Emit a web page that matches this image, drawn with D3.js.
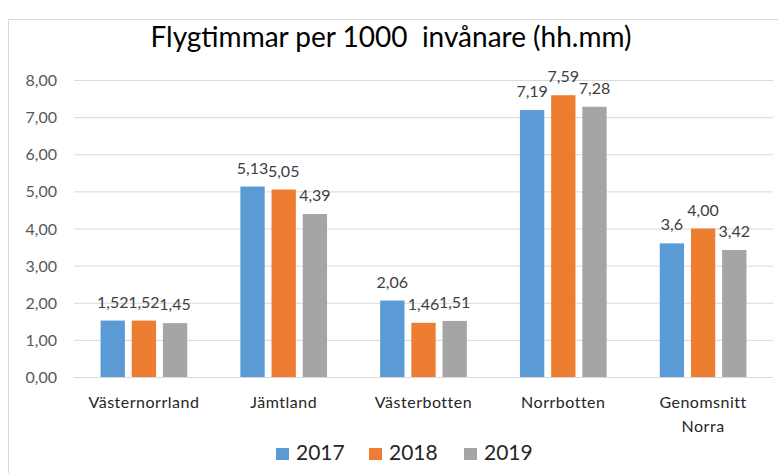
<!DOCTYPE html>
<html>
<head>
<meta charset="utf-8">
<script src="https://cdn.jsdelivr.net/npm/d3@7"></script>
<style>
body { margin: 0; background: #fff; }
text { font-family: Lato, "Open Sans", sans-serif; }
</style>
</head>
<body>
<script>
var categories = [["Västernorrland"], ["Jämtland"], ["Västerbotten"], ["Norrbotten"], ["Genomsnitt", "Norra"]];
var years = ["2017", "2018", "2019"];
var values2017 = [1.52, 5.13, 2.06, 7.19, 3.6];
var values2018 = [1.52, 5.05, 1.46, 7.59, 4.00];
var values2019 = [1.45, 4.39, 1.51, 7.28, 3.42];
var valueLabels2017 = ["1,52", "5,13", "2,06", "7,19", "3,6"];
var valueLabels2018 = ["1,52", "5,05", "1,46", "7,59", "4,00"];
var valueLabels2019 = ["1,45", "4,39", "1,51", "7,28", "3,42"];
var yTicks = [0, 1, 2, 3, 4, 5, 6, 7, 8];
var colors = ["#5b9bd5", "#ed7d31", "#a5a5a5"];

var W = 778, H = 473;
var MARGIN = { LEFT: 74, RIGHT: 5, TOP: 80, BOTTOM: 96 };

var svg = d3.select("body").append("svg").attr("width", W).attr("height", H);

// chart frame
svg.append("rect")
	.attr("x", 8.5).attr("y", 19.5)
	.attr("width", W).attr("height", H)
	.attr("fill", "none").attr("stroke", "#d9d9d9");

svg.append("text")
	.attr("x", 391).attr("y", 47)
	.attr("text-anchor", "middle")
	.attr("font-size", 28)
	.attr("fill", "#000")
	.style("white-space", "pre")
	.text("Flygtimmar per 1000  invånare (hh.mm)");

var series = years.map(function (y, i) {
	return {
		year: y,
		values: [values2017, values2018, values2019][i],
		labels: [valueLabels2017, valueLabels2018, valueLabels2019][i],
		color: colors[i]
	};
});

const x0 = d3.scaleBand()
	.domain(d3.range(categories.length))
	.range([MARGIN.LEFT, W - MARGIN.RIGHT])
	.paddingInner(0.38)
	.paddingOuter(0.19);
const x1 = d3.scaleBand()
	.domain(d3.range(years.length))
	.range([0, x0.bandwidth()])
	.paddingInner(0.22);
const yScale = d3.scaleLinear()
	.domain([0, 8])
	.range([H - MARGIN.BOTTOM, MARGIN.TOP]);

// gridlines + y labels
var yAxis = d3.axisLeft(yScale)
	.tickValues(yTicks)
	.tickSize(-(W - MARGIN.RIGHT - MARGIN.LEFT))
	.tickPadding(17)
	.tickFormat(function (d) { return d3.format(".2f")(d).replace(".", ","); });
var gy = svg.append("g")
	.attr("transform", "translate(" + MARGIN.LEFT + ",0)")
	.call(yAxis);
gy.select(".domain").remove();
gy.selectAll("line").attr("stroke", "#d9d9d9");
gy.selectAll("text").attr("font-size", 16).attr("fill", "#595959").attr("dy", "0.35em");

// bars
var groups = svg.selectAll(".grp")
	.data(series)
	.enter()
	.append("g")
	.attr("class", "grp");

groups.selectAll("rect")
	.data(function (s, si) { return s.values.map(function (v, ci) { return { v: v, ci: ci, si: si, color: s.color }; }); })
	.enter()
	.append("rect")
	.attr("x", function (d) { return x0(d.ci) + x1(d.si); })
	.attr("y", function (d) { return yScale(d.v); })
	.attr("width", x1.bandwidth())
	.attr("height", function (d) { return yScale(0) - yScale(d.v); })
	.attr("fill", function (d) { return d.color; });

groups.selectAll(".lbl")
	.data(function (s, si) { return s.values.map(function (v, ci) { return { v: v, ci: ci, si: si, t: s.labels[ci] }; }); })
	.enter()
	.append("text")
	.attr("class", "lbl")
	.attr("x", function (d) { return x0(d.ci) + x1(d.si) + x1.bandwidth() / 2; })
	.attr("y", function (d) { return yScale(d.v) - 13; })
	.attr("text-anchor", "middle")
	.attr("font-size", 16)
	.attr("fill", "#404040")
	.text(function (d) { return d.t; });

// category labels
var cat = svg.selectAll(".cat")
	.data(categories)
	.enter()
	.append("text")
	.attr("class", "cat")
	.attr("x", function (d, i) { return x0(i) + x0.bandwidth() / 2; })
	.attr("y", 408)
	.attr("text-anchor", "middle")
	.attr("font-size", 16)
	.attr("letter-spacing", 0.5)
	.attr("fill", "#262626");
cat.selectAll("tspan")
	.data(function (d) { return d; })
	.enter()
	.append("tspan")
	.attr("x", function () { return d3.select(this.parentNode).attr("x"); })
	.attr("dy", function (d, i) { return i == 0 ? 0 : 24; })
	.text(function (d) { return d; });

// legend
var legendX = [276, 369, 464];
var lg = svg.selectAll(".lg")
	.data(series)
	.enter()
	.append("g")
	.attr("class", "lg")
	.attr("transform", function (d, i) { return "translate(" + legendX[i] + ",448)"; });
lg.append("rect").attr("width", 13).attr("height", 12).attr("fill", function (d) { return d.color; });
lg.append("text")
	.attr("x", 20).attr("y", 12)
	.attr("font-size", 21)
	.attr("fill", "#262626")
	.text(function (d) { return d.year; });
</script>
</body>
</html>
